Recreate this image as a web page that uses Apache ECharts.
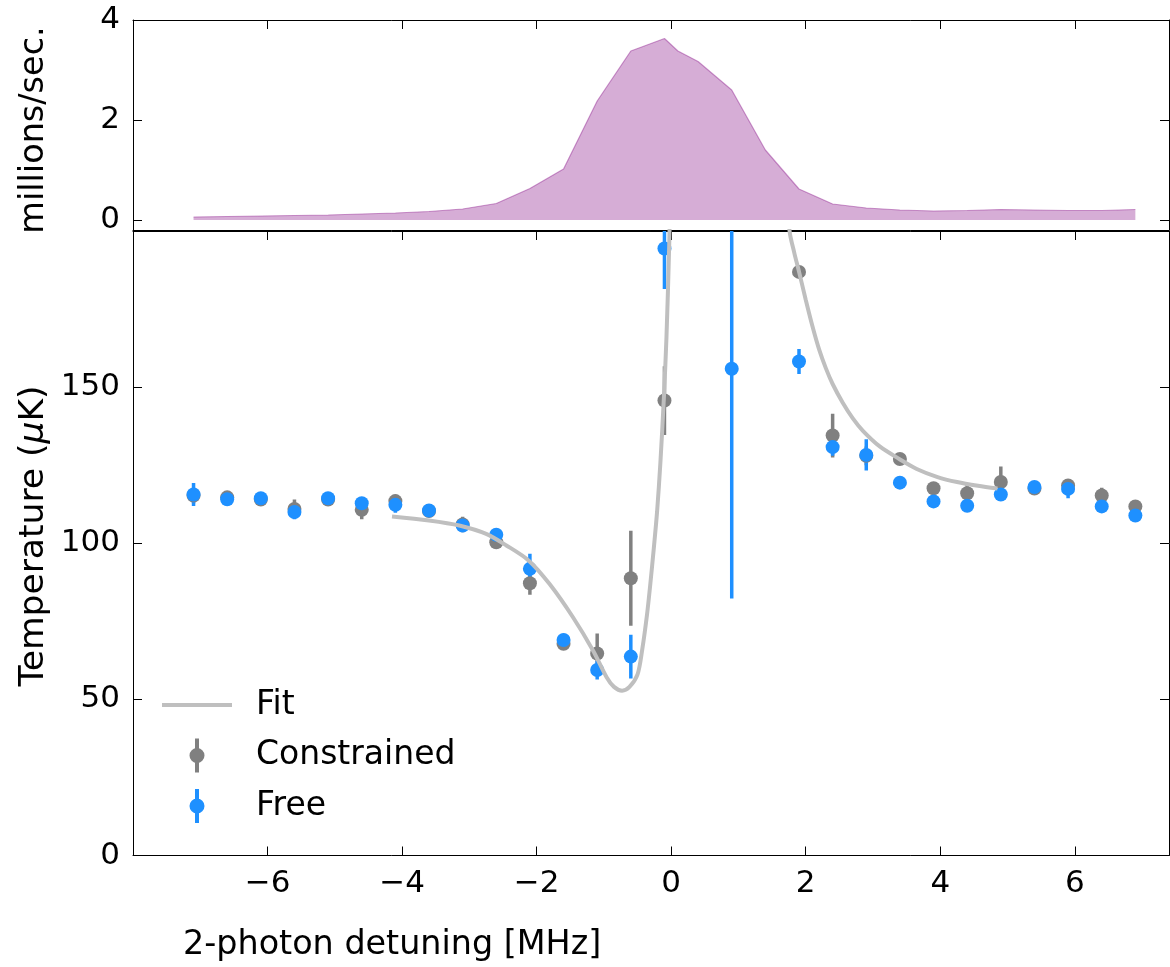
<!DOCTYPE html>
<html>
<head>
<meta charset="utf-8">
<script src="https://cdn.jsdelivr.net/npm/echarts@6/dist/echarts.min.js"></script>
<style>
html,body{margin:0;padding:0;background:#fff;}
#chart{width:1170px;height:967px;}
</style>
</head>
<body>
<div id="chart"></div>
<script>
// ---------- data ----------
const xTicks = [-6, -4, -2, 0, 2, 4, 6];
const topYTicks = [0, 2, 4];
const botYTicks = [0, 50, 100, 150];

// top panel: count rate (millions/sec.)
const rateX = [-7.1,-6.6,-6.1,-5.6,-5.1,-4.6,-4.1,-3.6,-3.1,-2.6,-2.1,-1.6,-1.1,-0.6,-0.1,0.1,0.4,0.9,1.4,1.9,2.4,2.9,3.4,3.9,4.4,4.9,5.4,5.9,6.4,6.9];
const rateY = [0.06,0.07,0.08,0.09,0.10,0.12,0.14,0.17,0.22,0.33,0.63,1.02,2.38,3.38,3.63,3.38,3.17,2.60,1.40,0.62,0.32,0.24,0.20,0.18,0.19,0.21,0.20,0.19,0.19,0.21];

// constrained
const conX = [-7.1,-6.6,-6.1,-5.6,-5.1,-4.6,-4.1,-3.6,-3.1,-2.6,-2.1,-1.6,-1.1,-0.6,-0.1,1.9,2.4,2.9,3.4,3.9,4.4,4.9,5.4,5.9,6.4,6.9];
const conY = [115.3,114.7,114.0,111.0,114.0,110.7,113.5,110.3,106.0,100.3,87.2,67.8,64.7,88.8,145.7,186.9,134.5,128.0,127.0,117.6,116.0,119.6,117.5,118.5,115.3,111.8];
const conErr = [2.5,1.5,1.5,3.0,1.5,3.0,2.0,1.5,2.5,1.5,3.7,1.5,6.4,15.2,11.0,1.5,7.0,3.0,1.5,1.5,2.7,5.0,1.5,1.5,2.5,1.5];

// free
const freeX = [-7.1,-6.6,-6.1,-5.6,-5.1,-4.6,-4.1,-3.6,-3.1,-2.6,-2.1,-1.6,-1.1,-0.6,-0.1,0.9,1.9,2.4,2.9,3.4,3.9,4.4,4.9,5.4,5.9,6.4,6.9];
const freeY = [115.6,114.1,114.4,110.0,114.4,112.8,112.3,110.5,105.7,102.7,91.8,69.0,59.4,63.7,194.4,155.9,158.2,130.8,128.3,119.4,113.4,112.0,115.6,118.0,117.4,111.8,108.9];
const freeErr = [3.7,1.2,1.2,2.3,1.2,2.0,2.5,1.2,1.5,1.2,4.8,2.0,3.0,7.0,13.0,73.6,4.0,2.8,5.0,1.2,1.2,1.2,1.2,1.5,3.0,1.2,1.2];

// fit curve (null = break where it leaves the plot)
const fitX = [-4.15,-3.6,-3.15,-2.75,-2.45,-2.12,-1.81,-1.46,-1.16,-0.96,-0.85,-0.73,-0.62,-0.5,-0.43,-0.36,-0.31,-0.26,-0.21,-0.16,-0.11,-0.07,-0.03,0.0,
              null,
              1.70,1.76,1.83,1.90,2.00,2.10,2.20,2.30,2.40,2.55,2.70,2.85,3.10,3.39,3.65,3.96,4.25,4.56,4.85];
const fitY = [108.6,107.3,105.7,103.0,99.3,94.5,87.0,76.3,65.6,57.1,54.0,52.8,54.0,58.0,66.0,77.0,87.0,98.0,110.0,126.0,146.0,166.0,195.0,225.0,
              null,
              222.0,200.0,193.0,187.0,178.0,169.5,162.0,156.0,151.0,145.0,140.0,136.0,131.0,127.0,123.8,121.2,119.6,118.4,117.5];

// ---------- styles ----------
const FONT = 'DejaVu Sans';
const GRAY = '#808080';
const BLUE = '#1e90ff';
const FIT = '#bfbfbf';
const XMIN = -8, XMAX = 7.4;
const minus = v => String(v).replace('-', '\u2212');

const pairs = (xs, ys) => xs.map((x, i) => (x === null ? ['-', '-'] : [x, ys[i]]));
const triples = (xs, ys, es) => xs.map((x, i) => [x, ys[i], es[i]]);

function errRender(color) {
  return function (params, api) {
    const x = api.value(0), y = api.value(1), e = api.value(2);
    const p1 = api.coord([x, y - e]);
    const p2 = api.coord([x, y + e]);
    return {
      type: 'line',
      shape: { x1: p1[0], y1: p1[1], x2: p2[0], y2: p2[1] },
      style: { stroke: color, lineWidth: 3.5, lineCap: 'butt' }
    };
  };
}

const axisLineStyle = { show: true, onZero: false, lineStyle: { color: '#000', width: 1 } };
const tickIn = (vals) => ({ show: true, inside: true, length: 9, customValues: vals, lineStyle: { color: '#000', width: 1 } });
const labelStyle = { color: '#000', fontFamily: FONT, fontSize: 31 };

const marker = 'path://M15.5,0 L19.5,0 L19.5,34 L15.5,34 Z M17.5,9.5 A7.5,7.5 0 1 1 17.49,9.5 Z';

const chart = echarts.init(document.getElementById('chart'), null, { renderer: 'canvas' });

chart.setOption({
  backgroundColor: '#fff',
  animation: false,
  grid: [
    { left: 133, right: 1, top: 20, height: 210 },
    { left: 133, right: 1, top: 231, height: 624.5 }
  ],
  xAxis: [
    { type: 'value', gridIndex: 0, min: XMIN, max: XMAX, position: 'bottom', axisLine: axisLineStyle, axisTick: { show: false }, axisLabel: { show: false }, splitLine: { show: false } },
    { type: 'value', gridIndex: 0, min: XMIN, max: XMAX, position: 'top', axisLine: axisLineStyle, axisTick: tickIn(xTicks), axisLabel: { show: false }, splitLine: { show: false } },
    { type: 'value', gridIndex: 1, min: XMIN, max: XMAX, position: 'bottom', axisLine: axisLineStyle, axisTick: tickIn(xTicks),
      axisLabel: Object.assign({ show: true, margin: 13, customValues: xTicks, formatter: minus }, labelStyle), splitLine: { show: false } },
    { type: 'value', gridIndex: 1, min: XMIN, max: XMAX, position: 'top', axisLine: axisLineStyle, axisTick: tickIn(xTicks), axisLabel: { show: false }, splitLine: { show: false } }
  ],
  yAxis: [
    { type: 'value', gridIndex: 0, min: -0.2, max: 4, position: 'left', axisLine: axisLineStyle, axisTick: tickIn(topYTicks),
      axisLabel: Object.assign({ show: true, margin: 13, customValues: topYTicks, formatter: minus }, labelStyle), splitLine: { show: false } },
    { type: 'value', gridIndex: 0, min: -0.2, max: 4, position: 'right', axisLine: axisLineStyle, axisTick: tickIn(topYTicks), axisLabel: { show: false }, splitLine: { show: false } },
    { type: 'value', gridIndex: 1, min: 0, max: 200, position: 'left', axisLine: axisLineStyle, axisTick: tickIn(botYTicks),
      axisLabel: Object.assign({ show: true, margin: 13, customValues: botYTicks, formatter: minus }, labelStyle), splitLine: { show: false } },
    { type: 'value', gridIndex: 1, min: 0, max: 200, position: 'right', axisLine: axisLineStyle, axisTick: tickIn(botYTicks), axisLabel: { show: false }, splitLine: { show: false } }
  ],
  legend: {
    orient: 'vertical',
    left: 162,
    top: 688,
    padding: 0,
    itemWidth: 70,
    itemHeight: 34,
    itemGap: 16.5,
    selectedMode: false,
    symbolKeepAspect: true,
    textStyle: { color: '#000', fontFamily: FONT, fontSize: 33, lineHeight: 34, padding: [0, 0, 0, 19] },
    data: [
      { name: 'Fit', icon: 'path://M0,0 L70,0 L70,4 L0,4 Z', itemStyle: { color: FIT } },
      { name: 'Constrained', icon: marker, itemStyle: { color: GRAY } },
      { name: 'Free', icon: marker, itemStyle: { color: BLUE } }
    ]
  },
  graphic: [
    { type: 'text', x: 34, y: 130, rotation: Math.PI / 2,
      style: { text: 'millions/sec.', fill: '#000', font: '33.5px "DejaVu Sans"', align: 'center', verticalAlign: 'middle' } },
    { type: 'text', x: 34, y: 536, rotation: Math.PI / 2,
      style: { text: '{a|Temperature (}{b|\u03bc}{a|K)}', align: 'center', verticalAlign: 'middle',
        rich: { a: { fontFamily: FONT, fontSize: 34.5, fill: '#000', color: '#000' }, b: { fontFamily: FONT, fontSize: 34.5, fontStyle: 'italic', color: '#000', fill: '#000' } } } },
    { type: 'text', x: 183, y: 945,
      style: { text: '2-photon detuning [MHz]', fill: '#000', font: '33.4px "DejaVu Sans"', align: 'left', verticalAlign: 'middle' } }
  ],
  series: [
    { name: 'rate', type: 'line', xAxisIndex: 0, yAxisIndex: 0, data: pairs(rateX, rateY), symbol: 'none',
      lineStyle: { color: 'rgba(128,0,128,0.38)', width: 1.2 },
      areaStyle: { color: 'rgba(128,0,128,0.32)', opacity: 1, origin: 0 }, silent: true },
    { name: 'Fit', type: 'line', xAxisIndex: 2, yAxisIndex: 2, data: pairs(fitX, fitY), symbol: 'none', smooth: 0.3, connectNulls: false, clip: true,
      lineStyle: { color: FIT, width: 4 }, itemStyle: { color: FIT } },
    { name: 'Constrained', type: 'custom', xAxisIndex: 2, yAxisIndex: 2, data: triples(conX, conY, conErr), renderItem: errRender(GRAY), clip: true,
      itemStyle: { color: GRAY }, encode: { x: 0, y: 1 } },
    { name: 'Constrained', type: 'scatter', xAxisIndex: 2, yAxisIndex: 2, data: pairs(conX, conY), symbolSize: 14, clip: true,
      itemStyle: { color: GRAY, opacity: 1 } },
    { name: 'Free', type: 'custom', xAxisIndex: 2, yAxisIndex: 2, data: triples(freeX, freeY, freeErr), renderItem: errRender(BLUE), clip: true,
      itemStyle: { color: BLUE }, encode: { x: 0, y: 1 } },
    { name: 'Free', type: 'scatter', xAxisIndex: 2, yAxisIndex: 2, data: pairs(freeX, freeY), symbolSize: 14, clip: true,
      itemStyle: { color: BLUE, opacity: 1 } }
  ]
});
</script>
</body>
</html>
